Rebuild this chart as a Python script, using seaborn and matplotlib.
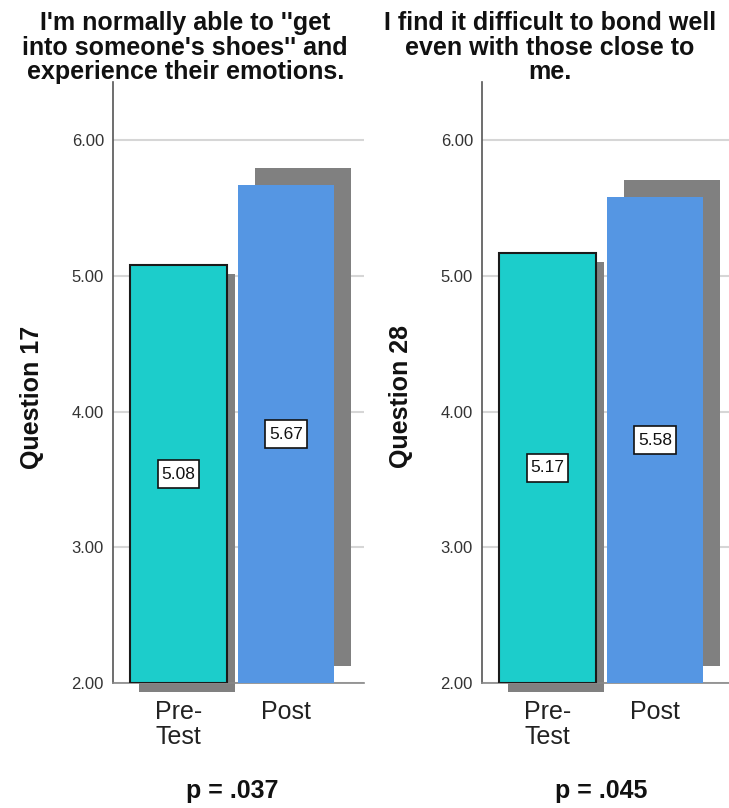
import numpy as np
import pandas as pd
import matplotlib
matplotlib.use("Agg")
import matplotlib.pyplot as plt
from matplotlib.path import Path
from matplotlib.ticker import FormatStrFormatter
import seaborn as sns

# Mean scores before and after the programme for two survey items
groups = ["Pre-\nTest", "Post"]
q17_means = [5.08, 5.67]
q28_means = [5.17, 5.58]
item_titles = [
    "I'm normally able to ''get\ninto someone's shoes'' and\nexperience their emotions.",
    "I find it difficult to bond well\neven with those close to\nme.",
]
item_labels = ["Question 17", "Question 28"]
p_labels = ["p = .037", "p = .045"]
y_ticks = [2, 3, 4, 5, 6]

sns.set_style("white")
plt.rcParams["font.family"] = ["Liberation Sans", "DejaVu Sans"]

PRE_COLOR = "#1ccdcb"
POST_COLOR = "#5596e3"
SHADOW = "#808080"
BASE = 2.0
BAR_W = 0.895
# drop-shadow offsets (x in category units, y in score units) per bar
SHADOW_DX = [0.08, 0.155]
SHADOW_DY = [-0.065, 0.125]


def tall_box(x0, y0, width, height, mutation_size):
    """Rectangular label box with more room above and below than at the sides."""
    px, py = 0.22 * mutation_size, 0.38 * mutation_size
    x0, y0 = x0 - px, y0 - py
    x1, y1 = x0 + width + 2 * px, y0 + height + 2 * py
    return Path([(x0, y0), (x1, y0), (x1, y1), (x0, y1), (x0, y0)],
                closed=True)


fig = plt.figure(figsize=(7.29, 8.08), dpi=100)
axes = [
    fig.add_axes([0.1550, 0.1547, 0.3443, 0.7438]),
    fig.add_axes([0.6612, 0.1547, 0.3443, 0.7438]),
]
title_x = [0.254, 0.7545]

for ax, means, title, ylab, plab, tx in zip(
    axes, [q17_means, q28_means], item_titles, item_labels, p_labels, title_x
):
    df = pd.DataFrame({"time": groups, "mean": means})
    sns.barplot(
        data=df, x="time", y="mean", hue="time", order=groups, hue_order=groups,
        palette=[PRE_COLOR, POST_COLOR], saturation=1, width=BAR_W,
        errorbar=None, legend=False, ax=ax, zorder=3,
    )
    # bars rise from the axis floor rather than from zero
    for cont, edge in zip(ax.containers, ["#1a1a1a", "none"]):
        for p in cont.patches:
            h = p.get_height()
            p.set_y(BASE)
            p.set_height(h - BASE)
            p.set_edgecolor(edge)
            p.set_linewidth(1.5 if edge != "none" else 0)

    # grey drop shadows behind the bars
    xs = np.arange(len(means))
    ax.bar(
        xs + np.array(SHADOW_DX), np.array(means) - BASE,
        bottom=BASE + np.array(SHADOW_DY), width=BAR_W,
        color=SHADOW, zorder=2, clip_on=False, linewidth=0,
    )

    # value boxes at mid-height of each bar
    for i, v in enumerate(means):
        ax.text(
            i, (BASE + v) / 2, f"{v:.2f}", ha="center", va="center",
            fontsize=12.5, color="#111111", zorder=6,
            bbox=dict(boxstyle=tall_box, fc="white", ec="#111111", lw=1.2),
        )

    ax.set_xlim(-0.61, 1.725)
    ax.set_ylim(BASE, 6.43)
    ax.set_yticks(y_ticks)
    ax.yaxis.set_major_formatter(FormatStrFormatter("%.2f"))
    ax.yaxis.grid(True, color="#d6d6d6", linewidth=1.5, zorder=0)
    ax.set_axisbelow(True)
    ax.tick_params(axis="y", length=0, pad=6.5, labelsize=12, labelcolor="#333333")
    ax.tick_params(axis="x", length=0, pad=12, labelsize=18, labelcolor="#222222")
    for lbl in ax.get_xticklabels():
        lbl.set_linespacing(1.08)

    for s in ["top", "right"]:
        ax.spines[s].set_visible(False)
    ax.spines["left"].set_color("#555555")
    ax.spines["left"].set_linewidth(1.2)
    ax.spines["bottom"].set_color("#888888")
    ax.spines["bottom"].set_linewidth(1.2)

    ax.set_ylabel(ylab, fontsize=18, fontweight="bold", color="#111111")
    ax.yaxis.set_label_coords(-0.275, 0.476)
    ax.set_xlabel(plab, fontsize=18, fontweight="bold", color="#111111")
    ax.xaxis.set_label_coords(0.475, -0.16)

    fig.text(tx, 0.986, title, ha="center", va="top", fontsize=18,
             fontweight="bold", color="#111111", linespacing=1.02)

fig.savefig("out.png", dpi=100)
